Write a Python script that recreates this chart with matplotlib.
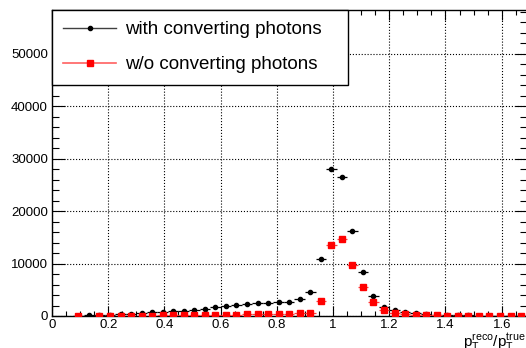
import numpy as np
import matplotlib.pyplot as plt
from matplotlib.lines import Line2D
from matplotlib.ticker import MultipleLocator

# bin centres of the momentum-ratio histogram (bin width 0.0375)
bin_width = 0.0375
bin_centers = [0.0938, 0.1313, 0.1688, 0.2063, 0.2438, 0.2813, 0.3188, 0.3563,
               0.3938, 0.4313, 0.4688, 0.5063, 0.5438, 0.5813, 0.6188, 0.6563,
               0.6938, 0.7313, 0.7688, 0.8063, 0.8438, 0.8813, 0.9188, 0.9563,
               0.9938, 1.0313, 1.0688, 1.1063, 1.1438, 1.1813, 1.2188, 1.2563,
               1.2938, 1.3313, 1.3688, 1.4063, 1.4438, 1.4813, 1.5188, 1.5563,
               1.5938, 1.6313, 1.6688]

with_conv = [40, 130, 170, 220, 320, 420, 550, 680, 760, 880, 950, 1150, 1390,
             1650, 1900, 2100, 2300, 2450, 2550, 2600, 2720, 3200, 4620, 10770,
             28050, 26550, 16150, 8420, 3800, 1700, 1080, 700, 480, 330, 250,
             180, 130, 100, 80, 60, 50, 40, 30]

without_conv = [30, np.nan, 40, 50, 60, 70, 80, 90, 100, 110, 120, 140, 160,
                190, 220, 260, 300, 340, 370, 400, 430, 480, 650, 2900, 13550,
                14700, 9690, 5570, 2720, 1200, 600, 380, 250, 160, 120, 90, 70,
                60, 50, 40, 30, 25, 20]

plt.rcParams.update({
    'font.family': ['Liberation Sans', 'DejaVu Sans'],
    'mathtext.fontset': 'custom',
    'mathtext.rm': 'Liberation Sans',
    'mathtext.it': 'Liberation Sans',
    'xtick.direction': 'in',
    'ytick.direction': 'in',
    'xtick.top': True,
    'ytick.right': True,
})

fig = plt.figure(figsize=(5.26, 3.48), dpi=100)
ax = fig.add_axes([52 / 526, 1 - 316 / 348, 475 / 526, 306 / 348])

x = np.array(bin_centers)
ax.errorbar(x, with_conv, xerr=bin_width / 2, fmt='o', color='black',
            markersize=3, elinewidth=0.9, capsize=0, zorder=3)
ax.errorbar(x, without_conv, xerr=bin_width / 2, fmt='s', color='red',
            ecolor='#ff4040', markersize=4.5, elinewidth=0.9, capsize=0,
            zorder=4)

ax.set_xlim(0, 1.69)
ax.set_ylim(0, 58300)

ax.xaxis.set_major_locator(MultipleLocator(0.2))
ax.xaxis.set_minor_locator(MultipleLocator(0.05))
ax.yaxis.set_major_locator(MultipleLocator(10000))
ax.yaxis.set_minor_locator(MultipleLocator(2000))
ax.xaxis.set_major_formatter(lambda v, p: '0' if abs(v) < 1e-9 else f'{v:g}')

ax.tick_params(axis='x', which='major', length=7, width=0.8, labelsize=9.5, pad=2.5)
ax.tick_params(axis='x', which='minor', length=3.6, width=0.8)
ax.tick_params(axis='y', which='major', length=9, width=0.8, labelsize=9.5, pad=3)
ax.tick_params(axis='y', which='minor', length=4.8, width=0.8)
for s in ax.spines.values():
    s.set_linewidth(1.0)

ax.grid(True, which='major', color='black', linestyle=':', linewidth=0.8)
ax.set_axisbelow(True)

handles = [
    Line2D([], [], color='#404040', lw=1.0, marker='o', markersize=3,
           markerfacecolor='black', markeredgecolor='black'),
    Line2D([], [], color='#ff6060', lw=1.2, marker='s', markersize=4.5,
           markerfacecolor='red', markeredgecolor='red'),
]
labels = ['with converting photons', 'w/o converting photons']
leg = ax.legend(handles, labels, loc='upper left',
                bbox_to_anchor=(0, 0, 296 / 475, 1), mode='expand',
                borderaxespad=0, fontsize=13.5, frameon=True, fancybox=False,
                edgecolor='black', framealpha=1, handlelength=2.8,
                handletextpad=0.5, borderpad=0.6, labelspacing=0.95)
leg.get_frame().set_linewidth(1.0)
leg.set_zorder(10)

# axis title sits in the bottom-right corner, ROOT style
fig.text(1.0, 1.5 / 348, r'$\mathregular{p_T^{reco}/p_T^{true}}$', ha='right',
         va='baseline', fontsize=11)

fig.savefig('out.png', dpi=100)
